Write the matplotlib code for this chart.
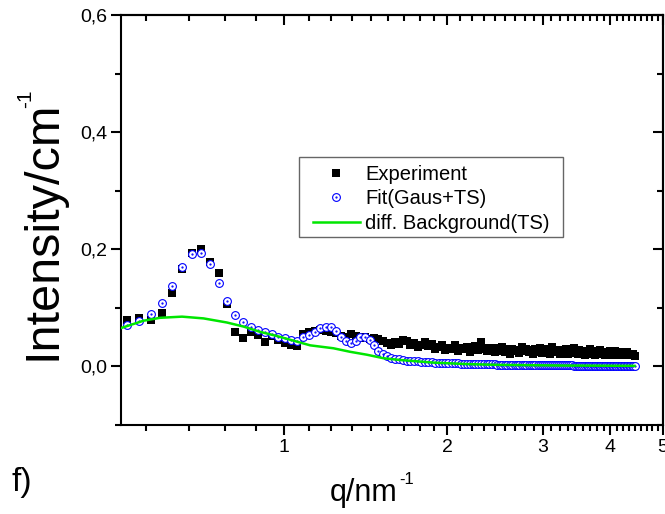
import matplotlib
matplotlib.use("Agg")
import matplotlib.pyplot as plt
from matplotlib.lines import Line2D
from matplotlib.patches import Rectangle

plt.rcParams['font.family'] = ['Liberation Sans', 'DejaVu Sans']

# scattering vector q (nm^-1), shared by experiment and fit
q = [
    0.513, 0.540, 0.567, 0.595, 0.622, 0.649, 0.676, 0.703, 0.731, 0.758,
    0.785, 0.812, 0.839, 0.867, 0.894, 0.921, 0.948, 0.975, 1.003, 1.030,
    1.057, 1.084, 1.111, 1.139, 1.166, 1.193, 1.220, 1.247, 1.275, 1.302,
    1.329, 1.356, 1.383, 1.411, 1.438, 1.465, 1.492, 1.519, 1.547, 1.574,
    1.601, 1.628, 1.655, 1.683, 1.710, 1.737, 1.764, 1.791, 1.819, 1.846,
    1.873, 1.900, 1.927, 1.955, 1.982, 2.009, 2.036, 2.063, 2.091, 2.118,
    2.145, 2.172, 2.199, 2.227, 2.254, 2.281, 2.308, 2.335, 2.363, 2.390,
    2.417, 2.444, 2.471, 2.499, 2.526, 2.553, 2.580, 2.607, 2.635, 2.662,
    2.689, 2.716, 2.743, 2.771, 2.798, 2.825, 2.852, 2.879, 2.907, 2.934,
    2.961, 2.988, 3.015, 3.043, 3.070, 3.097, 3.124, 3.151, 3.179, 3.206,
    3.233, 3.260, 3.287, 3.315, 3.342, 3.369, 3.396, 3.423, 3.451, 3.478,
    3.505, 3.532, 3.559, 3.587, 3.614, 3.641, 3.668, 3.695, 3.723, 3.750,
    3.777, 3.804, 3.831, 3.859, 3.886, 3.913, 3.940, 3.967, 3.995, 4.022,
    4.049, 4.076, 4.103, 4.131, 4.158, 4.185, 4.212, 4.239, 4.267, 4.294,
    4.321, 4.348, 4.375, 4.403, 4.430,
]

experiment = [
    0.080, 0.082, 0.080, 0.092, 0.125, 0.166, 0.194, 0.200, 0.179, 0.159,
    0.107, 0.058, 0.048, 0.059, 0.054, 0.041, 0.052, 0.045, 0.040, 0.036,
    0.035, 0.055, 0.058, 0.060, 0.062, 0.060, 0.058, 0.057, 0.052, 0.050,
    0.055, 0.052, 0.048, 0.051, 0.046, 0.049, 0.047, 0.043, 0.040, 0.036,
    0.042, 0.038, 0.045, 0.044, 0.036, 0.040, 0.033, 0.037, 0.042, 0.035,
    0.038, 0.030, 0.034, 0.036, 0.028, 0.032, 0.030, 0.036, 0.027, 0.031,
    0.029, 0.033, 0.025, 0.030, 0.035, 0.028, 0.041, 0.030, 0.026, 0.032,
    0.029, 0.024, 0.031, 0.027, 0.034, 0.025, 0.029, 0.022, 0.030, 0.026,
    0.028, 0.023, 0.033, 0.027, 0.030, 0.024, 0.028, 0.021, 0.029, 0.025,
    0.031, 0.023, 0.027, 0.024, 0.029, 0.022, 0.034, 0.026, 0.024, 0.028,
    0.021, 0.027, 0.024, 0.030, 0.022, 0.026, 0.023, 0.032, 0.025, 0.021,
    0.028, 0.024, 0.026, 0.020, 0.027, 0.023, 0.029, 0.022, 0.025, 0.020,
    0.026, 0.023, 0.028, 0.021, 0.024, 0.019, 0.025, 0.022, 0.026, 0.020,
    0.023, 0.027, 0.021, 0.024, 0.019, 0.023, 0.025, 0.020, 0.022, 0.024,
    0.019, 0.022, 0.020, 0.021, 0.018,
]

fit = [
    0.071, 0.078, 0.090, 0.109, 0.137, 0.169, 0.192, 0.194, 0.175, 0.142,
    0.111, 0.088, 0.075, 0.067, 0.062, 0.058, 0.055, 0.051, 0.048, 0.045,
    0.044, 0.050, 0.054, 0.059, 0.065, 0.068, 0.067, 0.061, 0.051, 0.044,
    0.040, 0.044, 0.050, 0.050, 0.045, 0.036, 0.027, 0.021, 0.017, 0.015,
    0.013, 0.012, 0.011, 0.010, 0.0095, 0.0090, 0.0085, 0.0080, 0.0077, 0.0073,
    0.0070, 0.0067, 0.0064, 0.0061, 0.0058, 0.0056, 0.0054, 0.0052, 0.0050, 0.0048,
    0.0046, 0.0044, 0.0043, 0.0042, 0.0040, 0.0039, 0.0038, 0.0037, 0.0036, 0.0035,
    0.0034, 0.0033, 0.0032, 0.0031, 0.0030, 0.0029, 0.0029, 0.0028, 0.0027, 0.0027,
    0.0026, 0.0025, 0.0025, 0.0024, 0.0024, 0.0023, 0.0023, 0.0022, 0.0022, 0.0021,
    0.0021, 0.0020, 0.0020, 0.0020, 0.0019, 0.0019, 0.0019, 0.0018, 0.0018, 0.0018,
    0.0017, 0.0017, 0.0017, 0.0016, 0.0016, 0.0016, 0.0016, 0.0015, 0.0015, 0.0015,
    0.0015, 0.0014, 0.0014, 0.0014, 0.0014, 0.0013, 0.0013, 0.0013, 0.0013, 0.0013,
    0.0012, 0.0012, 0.0012, 0.0012, 0.0012, 0.0012, 0.0011, 0.0011, 0.0011, 0.0011,
    0.0011, 0.0011, 0.0011, 0.0010, 0.0010, 0.0010, 0.0010, 0.0010, 0.0010, 0.0010,
    0.0010, 0.0010, 0.0010, 0.0010, 0.0010,
]

# diffuse background (TS)
bg_q = [0.502, 0.550, 0.590, 0.648, 0.710, 0.784, 0.842, 0.903, 0.969, 1.040,
        1.117, 1.233, 1.323, 1.421, 1.525, 1.636, 1.886, 2.174, 2.500, 3.320, 4.430]
background = [0.066, 0.078, 0.083, 0.085, 0.082, 0.075, 0.068, 0.059, 0.052, 0.044,
              0.036, 0.031, 0.025, 0.020, 0.014, 0.011, 0.0065, 0.004, 0.0026, 0.0015, 0.001]

x_major = [1, 2, 3, 4, 5]
x_minor = [n + k / 9 for n in range(0, 5) for k in range(1, 9) if n + k / 9 > 0.5]
y_major = [0.0, 0.2, 0.4, 0.6]
y_labels = ["0,0", "0,2", "0,4", "0,6"]
y_minor = [-0.1, 0.1, 0.3, 0.5]

blue = "#0000ff"
green = "#00e600"
W, H = 665, 514

fig = plt.figure(figsize=(W / 100, H / 100), dpi=100)
ax = fig.add_axes([121 / W, 1 - 425 / H, (663 - 121) / W, (425 - 15) / H])

ax.plot(q, experiment, "s", color="black", ms=6.3, mew=0, zorder=2)
ax.plot(q, fit, "o", mfc="white", mec=blue, mew=0.8, ms=5.6, zorder=3)
ax.plot(q, fit, ".", color=blue, ms=1.2, zorder=4)
ax.plot(bg_q, background, "-", color=green, lw=1.8, zorder=5)

ax.set_xscale("log")
ax.set_xlim(0.5, 5)
ax.set_ylim(-0.1, 0.6)
ax.set_xticks(x_major)
ax.set_xticklabels([str(v) for v in x_major])
ax.set_xticks(x_minor, minor=True)
ax.set_xticklabels([], minor=True)
ax.set_yticks(y_major)
ax.set_yticklabels(y_labels)
ax.set_yticks(y_minor, minor=True)

for s in ax.spines.values():
    s.set_linewidth(1.5)
ax.tick_params(which="major", direction="out", length=7, width=1.5, labelsize=14, pad=3)
ax.tick_params(which="minor", direction="out", length=4, width=1.5)

top = ax.secondary_xaxis("top")
top.set_xticks(x_major)
top.set_xticks(x_minor, minor=True)
top.set_xticklabels([])
top.set_xticklabels([], minor=True)
top.tick_params(which="major", direction="in", length=7, width=1.5)
top.tick_params(which="minor", direction="in", length=4, width=1.5)
top.spines["top"].set_linewidth(1.5)

right = ax.secondary_yaxis("right")
right.set_yticks(y_major)
right.set_yticks(y_minor, minor=True)
right.set_yticklabels([])
right.tick_params(which="major", direction="in", length=7, width=1.5)
right.tick_params(which="minor", direction="in", length=4, width=1.5)
right.spines["right"].set_linewidth(1.5)

# axis titles, with a plain hyphen superscript like the original
ylab = fig.text(55 / W, 1 - 230 / H, "Intensity/cm", rotation=90,
                rotation_mode="anchor", ha="center", va="baseline", fontsize=35)
xlab = fig.text(364 / W, 1 - 501 / H, "q/nm", ha="center", va="baseline", fontsize=22)
fig.text(22 / W, 1 - 483 / H, "f)", ha="center", va="center", fontsize=24)

fig.canvas.draw()
bb = ylab.get_window_extent()
fig.text(26 / W, (bb.y1 - 8) / H, "-1", rotation=90, rotation_mode="anchor",
         ha="left", va="center", fontsize=15)
bb = xlab.get_window_extent()
fig.text((bb.x1 + 1) / W, 1 - 480 / H, "-1", ha="left", va="center", fontsize=12)

h_exp = Line2D([], [], ls="none", marker="s", color="black", ms=6.3, mew=0)
h_fit_o = Line2D([], [], ls="none", marker="o", mfc="white", mec=blue, mew=0.8, ms=5.6)
h_fit_d = Line2D([], [], ls="none", marker=".", color=blue, ms=1.2)
h_bg = Line2D([], [], color=green, lw=1.8)
leg = ax.legend([h_exp, (h_fit_o, h_fit_d), h_bg],
                ["Experiment", "Fit(Gaus+TS)", "diff. Background(TS)"],
                loc="upper left", bbox_to_anchor=(313 / W, 1 - 165 / H),
                bbox_transform=fig.transFigure, borderaxespad=0,
                fontsize=14.5, frameon=False,
                handlelength=2.33, handletextpad=0.25, labelspacing=0.27,
                borderpad=0)
# legend frame drawn at the original's box position
fig.add_artist(Rectangle((299 / W, 1 - 237 / H), 264 / W, 80 / H,
                         transform=fig.transFigure, fill=False,
                         edgecolor="#666666", lw=1.0))

fig.savefig("out.png", dpi=100)
